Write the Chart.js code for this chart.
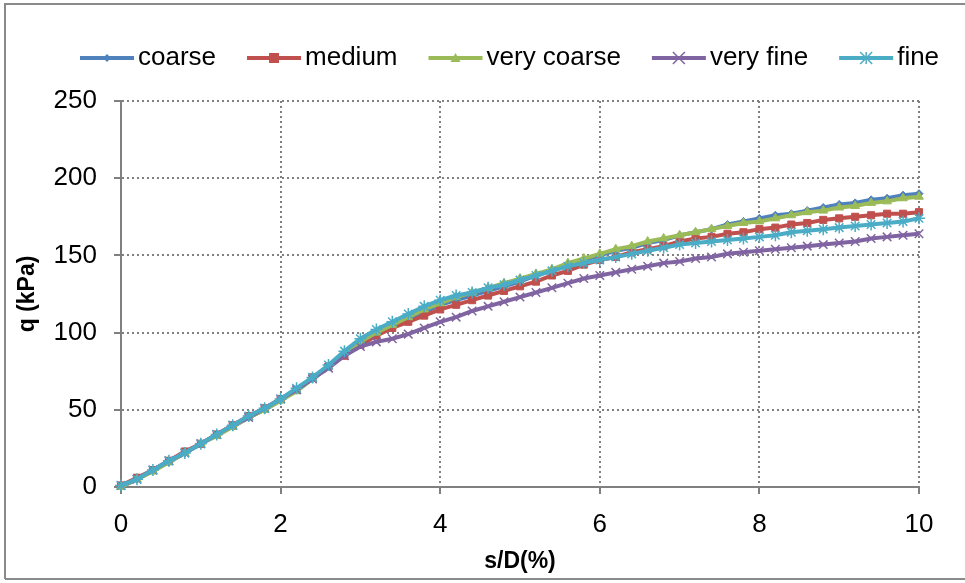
<!DOCTYPE html>
<html>
<head>
<meta charset="utf-8">
<script src="https://cdn.jsdelivr.net/npm/chart.js"></script>
<style>
  html, body { margin: 0; padding: 0; background: #fff; }
  #wrap { position: relative; width: 965px; height: 583px; }
</style>
</head>
<body>
<div id="wrap"><canvas id="c" width="965" height="583"></canvas></div>
<script>
// ---- data ----
const sd = [0,0.2,0.4,0.6,0.8,1,1.2,1.4,1.6,1.8,2,2.2,2.4,2.6,2.8,3,3.2,3.4,3.6,3.8,4,4.2,4.4,4.6,4.8,5,5.2,5.4,5.6,5.8,6,6.2,6.4,6.6,6.8,7,7.2,7.4,7.6,7.8,8,8.2,8.4,8.6,8.8,9,9.2,9.4,9.6,9.8,10];
const coarse = [0,5,11,16,22,28,34,39,45,50,56,63,70,78,86,93,99,104,109,113,118,121,124,127,130,133,137,140,144,147,150,153,155,158,160,163,165,167,170,172,174,176,177,179,181,183,184,186,187,189,190];
const medium = [1,6,11,17,23,28,34,40,46,51,57,63,71,78,85,92,98,103,107,111,115,118,121,124,127,130,133,137,140,144,147,149,152,154,156,159,161,162,164,165,167,168,170,171,173,174,175,176,177,177,178];
const veryCoarse = [0,5,10,16,22,28,33,39,45,50,56,62,70,78,87,94,100,105,110,115,119,123,126,129,132,135,138,141,145,148,151,154,156,159,161,163,165,167,169,171,172,174,176,178,179,181,182,184,185,187,188];
const veryFine = [1,5,11,17,22,28,34,40,45,51,57,63,70,77,85,91,94,96,99,103,107,110,114,117,120,123,126,129,132,135,137,139,141,143,145,146,148,149,151,152,153,154,155,156,157,158,159,161,162,163,164];
const fine = [1,5,11,17,22,28,34,40,46,51,57,64,71,79,88,96,102,107,112,117,121,124,126,129,131,134,137,140,143,145,147,149,151,153,155,157,158,159,160,161,162,163,165,166,167,168,169,170,171,172,174];
const seriesNames = ['coarse','medium','very coarse','very fine','fine'];
const xTicks = [0,2,4,6,8,10];
const yTicks = [0,50,100,150,200,250];

const seriesValues = [coarse, medium, veryCoarse, veryFine, fine];
const colors = ['#4F81BD','#C0504D','#9BBB59','#8064A2','#4BACC6'];
const styles = ['rectRot','rect','triangle','crossRot','star'];
const radii = [4,5,5,6,6];

const FONT = "'Liberation Sans', Arial, sans-serif";
const GRID = '#808080';

function drawMarker(ctx, style, x, y, r, color) {
  ctx.save();
  ctx.fillStyle = color; ctx.strokeStyle = color; ctx.lineWidth = 1.5;
  ctx.beginPath();
  if (style === 'rectRot') {
    ctx.moveTo(x, y - r); ctx.lineTo(x + r, y); ctx.lineTo(x, y + r); ctx.lineTo(x - r, y); ctx.closePath(); ctx.fill();
  } else if (style === 'rect') {
    ctx.rect(x - r, y - r, 2 * r, 2 * r); ctx.fill();
  } else if (style === 'triangle') {
    ctx.moveTo(x, y - r); ctx.lineTo(x + r, y + r * 0.8); ctx.lineTo(x - r, y + r * 0.8); ctx.closePath(); ctx.fill();
  } else if (style === 'crossRot') {
    ctx.moveTo(x - r, y - r); ctx.lineTo(x + r, y + r); ctx.moveTo(x + r, y - r); ctx.lineTo(x - r, y + r); ctx.stroke();
  } else if (style === 'star') {
    ctx.moveTo(x - r, y - r); ctx.lineTo(x + r, y + r); ctx.moveTo(x + r, y - r); ctx.lineTo(x - r, y + r);
    ctx.moveTo(x, y - r); ctx.lineTo(x, y + r); ctx.stroke();
  }
  ctx.restore();
}

const legendAndFrame = {
  id: 'legendAndFrame',
  afterLayout(chart) {
    const lg = chart.legend;
    const pad = lg.options.labels.padding;
    const startX = (lg.left + pad + lg.right - lg.lineWidths[0]) / 2;
    const dx = 80 - startX;
    lg.left += dx; lg.right += dx;
    const dy = -20;
    lg.top += dy; lg.bottom += dy;
  },
  beforeDraw(chart) {
    const ctx = chart.ctx;
    ctx.save();
    ctx.fillStyle = '#fff';
    ctx.fillRect(0, 0, chart.width, chart.height);
    ctx.strokeStyle = '#8a8a8a'; ctx.lineWidth = 2;
    ctx.beginPath();
    ctx.moveTo(5, 579); ctx.lineTo(5, 4); ctx.lineTo(chart.width, 4);
    ctx.moveTo(5, 579); ctx.lineTo(chart.width, 579);
    ctx.stroke();
    ctx.restore();
  },
  afterDraw(chart) {
    const ctx = chart.ctx;
    const boxes = chart.legend.legendHitBoxes;
    boxes.forEach((b, i) => {
      const cy = b.top + b.height / 2;
      ctx.save();
      ctx.strokeStyle = colors[i]; ctx.lineWidth = 4;
      ctx.beginPath(); ctx.moveTo(b.left, cy); ctx.lineTo(b.left + 54, cy); ctx.stroke();
      ctx.restore();
      drawMarker(ctx, styles[i], b.left + 27, cy, radii[i], colors[i]);
    });
  }
};

const datasets = seriesNames.map((name, i) => ({
  label: name,
  data: sd.map((x, k) => ({ x: x, y: seriesValues[i][k] })),
  borderColor: colors[i],
  backgroundColor: colors[i],
  borderWidth: 4,
  pointStyle: styles[i],
  pointRadius: radii[i],
  pointBorderWidth: (styles[i] === 'crossRot' || styles[i] === 'star') ? 1.5 : 1,
  pointBorderColor: colors[i],
  pointBackgroundColor: colors[i],
  tension: 0,
  clip: 10,
  order: 5 - i
}));

new Chart(document.getElementById('c'), {
  type: 'line',
  data: { datasets },
  plugins: [legendAndFrame],
  options: {
    responsive: false,
    animation: false,
    devicePixelRatio: 1,
    layout: { padding: { top: 34, left: 5, right: 5, bottom: 5 } },
    plugins: {
      tooltip: { enabled: false },
      legend: {
        display: true,
        position: 'top',
        align: 'center',
        labels: {
          font: { family: FONT, size: 26 },
          color: '#000',
          boxWidth: 45,
          boxHeight: 4,
          padding: 31,
          sort: (a, b) => a.datasetIndex - b.datasetIndex,
          generateLabels(chart) {
            return chart.data.datasets.map((ds, i) => ({
              text: ds.label,
              datasetIndex: i,
              fillStyle: 'rgba(0,0,0,0)',
              strokeStyle: 'rgba(0,0,0,0)',
              lineWidth: 0,
              hidden: false
            }));
          }
        }
      }
    },
    scales: {
      x: {
        type: 'linear',
        min: 0, max: 10,
        afterFit(scale) { scale.height = 91; scale.paddingRight = 46; },
        afterBuildTicks(scale) { scale.ticks = xTicks.map(v => ({ value: v })); },
        ticks: { font: { family: FONT, size: 26 }, color: '#000', padding: 15, maxRotation: 0 },
        grid: { color: GRID, lineWidth: 2, tickLength: 7, tickColor: GRID, tickWidth: 2, tickBorderDash: [] },
        border: { display: true, color: GRID, width: 2, dash: [2, 3] },
        title: { display: true, text: 's/D(%)', font: { family: FONT, size: 23, weight: 'bold' }, color: '#000', padding: 3 }
      },
      y: {
        type: 'linear',
        min: 0, max: 250,
        afterFit(scale) { scale.width = 116; },
        afterBuildTicks(scale) { scale.ticks = yTicks.map(v => ({ value: v })); },
        ticks: { font: { family: FONT, size: 26 }, color: '#000', padding: 17 },
        grid: { color: GRID, lineWidth: 2, tickLength: 7, tickColor: GRID, tickWidth: 2, tickBorderDash: [] },
        border: { display: true, color: GRID, width: 2, dash: [2, 3] },
        title: { display: true, text: 'q (kPa)', font: { family: FONT, size: 23, weight: 'bold' }, color: '#000', padding: { top: 9, bottom: 0 } }
      }
    }
  }
});
</script>
</body>
</html>
